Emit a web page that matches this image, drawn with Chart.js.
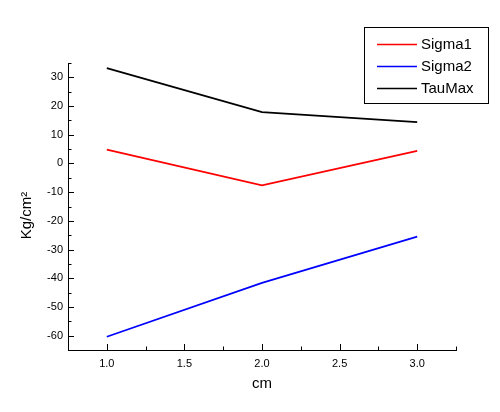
<!DOCTYPE html>
<html>
<head>
<meta charset="utf-8">
<script src="https://cdn.jsdelivr.net/npm/chart.js@4.4.1/dist/chart.umd.min.js"></script>
<style>
  html, body { margin: 0; padding: 0; background: #fff; }
  #wrap { width: 500px; height: 412px; }
</style>
</head>
<body>
<div id="wrap"><canvas id="c" width="500" height="412"></canvas></div>
<script>
// Stress components along the section (cm)
const positions = [1.0, 2.0, 3.0];
const sigma1 = [4.8, -7.6, 4.4];
const sigma2 = [-60.4, -41.6, -25.5];
const tauMax = [33.2, 17.9, 14.4];

const seriesNames = ['Sigma1', 'Sigma2', 'TauMax'];
const seriesColors = ['#ff0000', '#0000ff', '#000000'];

const xMajorTicks = [1.0, 1.5, 2.0, 2.5, 3.0];
const xMinorTicks = [0.75, 1.25, 1.75, 2.25, 2.75, 3.25];
const yMajorTicks = [-60, -50, -40, -30, -20, -10, 0, 10, 20, 30];
const yMinorTicks = [-65, -55, -45, -35, -25, -15, -5, 5, 15, 25, 35];

const xTitle = 'cm';
const yTitle = 'Kg/cm²';
const FONT = 'Arial, "Liberation Sans", sans-serif';

function toPoints(values) {
  return positions.map((x, i) => ({ x: x, y: values[i] }));
}

const allSeries = [sigma1, sigma2, tauMax];
const datasets = allSeries.map((vals, i) => ({
  label: seriesNames[i],
  data: toPoints(vals),
  borderColor: seriesColors[i],
  backgroundColor: seriesColors[i],
  borderWidth: 1.7,
  pointRadius: 0,
  tension: 0,
  fill: false
}));

function withTicks(major, minor) {
  return function (scale) {
    scale.ticks = major.concat(minor).sort((a, b) => a - b).map(v => ({ value: v }));
  };
}

// Inward tick marks, long for labelled values and short for the rest
const innerTicks = {
  id: 'innerTicks',
  afterDatasetsDraw(chart) {
    const ctx = chart.ctx;
    const xs = chart.scales.x, ys = chart.scales.y;
    const area = chart.chartArea;
    ctx.save();
    ctx.strokeStyle = '#000';
    ctx.lineWidth = 1;
    ctx.beginPath();
    yMajorTicks.concat(yMinorTicks).forEach(v => {
      const len = yMajorTicks.includes(v) ? 6 : 3.5;
      const py = Math.round(ys.getPixelForValue(v)) + 0.5;
      ctx.moveTo(area.left, py);
      ctx.lineTo(area.left + len, py);
    });
    xMajorTicks.concat(xMinorTicks).forEach(v => {
      const len = xMajorTicks.includes(v) ? 6 : 3.5;
      const px = Math.round(xs.getPixelForValue(v)) + 0.5;
      ctx.moveTo(px, area.bottom);
      ctx.lineTo(px, area.bottom - len);
    });
    ctx.stroke();
    ctx.restore();
  }
};

// Vertical axis title and the framed legend in the upper right
const decorations = {
  id: 'decorations',
  afterDraw(chart) {
    const ctx = chart.ctx;
    const area = chart.chartArea;
    ctx.save();
    ctx.fillStyle = '#000';
    ctx.font = '15px ' + FONT;
    ctx.textAlign = 'center';
    ctx.textBaseline = 'middle';
    ctx.translate(27, (area.top + area.bottom) / 2 + 9);
    ctx.rotate(-Math.PI / 2);
    ctx.fillText(yTitle, 0, 0);
    ctx.restore();

    const box = { left: 364.5, top: 27.5, width: 124, height: 76 };
    ctx.save();
    ctx.fillStyle = '#fff';
    ctx.fillRect(box.left, box.top, box.width, box.height);
    ctx.strokeStyle = '#000';
    ctx.lineWidth = 1;
    ctx.strokeRect(box.left, box.top, box.width, box.height);
    ctx.font = '15px ' + FONT;
    ctx.textAlign = 'left';
    ctx.textBaseline = 'middle';
    chart.data.datasets.forEach((ds, i) => {
      const y = 44.5 + i * 22;
      ctx.strokeStyle = ds.borderColor;
      ctx.lineWidth = 1.7;
      ctx.beginPath();
      ctx.moveTo(377, y);
      ctx.lineTo(417, y);
      ctx.stroke();
      ctx.fillStyle = '#000';
      ctx.fillText(ds.label, 421, y + 0.5);
    });
    ctx.restore();
  }
};

new Chart(document.getElementById('c'), {
  type: 'line',
  data: { datasets: datasets },
  plugins: [innerTicks, decorations],
  options: {
    responsive: false,
    animation: false,
    layout: { padding: { top: 63, right: 44, left: 0, bottom: 0 } },
    plugins: {
      legend: { display: false },
      tooltip: { enabled: false }
    },
    scales: {
      x: {
        type: 'linear',
        min: 0.75,
        max: 3.25,
        afterBuildTicks: withTicks(xMajorTicks, xMinorTicks),
        afterFit(scale) { scale.height = 62; },
        grid: { display: false, drawTicks: false },
        border: { display: true, color: '#000', width: 1 },
        ticks: {
          autoSkip: false,
          maxRotation: 0,
          padding: 7,
          color: '#000',
          font: { family: FONT, size: 11 },
          callback: v => xMajorTicks.includes(v) ? v.toFixed(1) : ''
        },
        title: {
          display: true,
          text: xTitle,
          color: '#000',
          font: { family: FONT, size: 15 },
          padding: { top: 0, bottom: 19 }
        }
      },
      y: {
        type: 'linear',
        min: -65,
        max: 35,
        afterBuildTicks: withTicks(yMajorTicks, yMinorTicks),
        afterFit(scale) { scale.width = 68; },
        grid: { display: false, drawTicks: false },
        border: { display: true, color: '#000', width: 1 },
        ticks: {
          autoSkip: false,
          padding: 5,
          color: '#000',
          font: { family: FONT, size: 11 },
          callback: v => yMajorTicks.includes(v) ? String(v) : ''
        }
      }
    }
  }
});
</script>
</body>
</html>
